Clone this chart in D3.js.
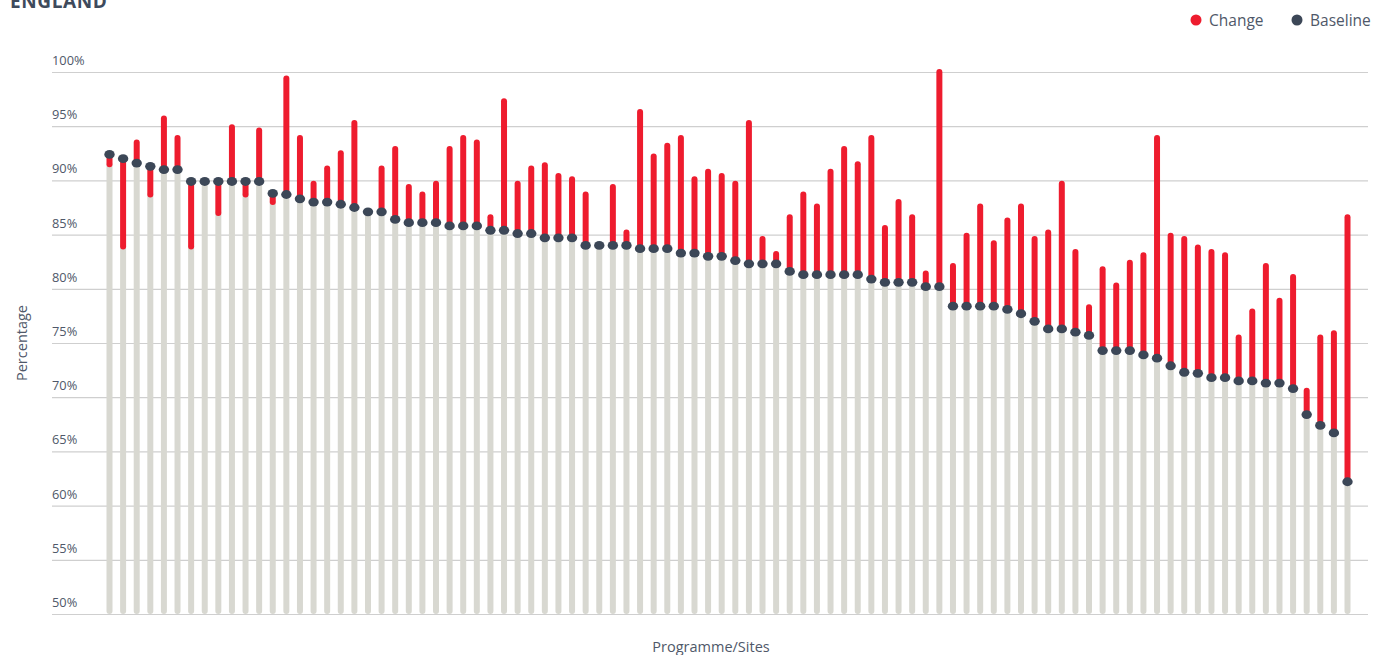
<!DOCTYPE html>
<html><head><meta charset="utf-8">
<script src="https://cdn.jsdelivr.net/npm/d3@7/dist/d3.min.js"></script>
<style>
html,body{margin:0;padding:0;background:#fff;overflow:hidden}
text{font-family:"Open Sans","Noto Sans",sans-serif}
</style></head>
<body><svg id="c" width="1373" height="655"></svg>
<script>
const baseline = [92.4,92.0,91.6,91.3,91.0,91.0,89.9,89.9,89.9,89.9,89.9,89.9,88.8,88.7,88.3,88.0,88.0,87.8,87.5,87.1,
87.1,86.4,86.1,86.1,86.1,85.8,85.8,85.8,85.4,85.4,85.1,85.1,84.7,84.7,84.7,84.0,84.0,84.0,84.0,83.7,
83.7,83.7,83.3,83.3,83.0,83.0,82.6,82.3,82.3,82.3,81.6,81.3,81.3,81.3,81.3,81.3,80.9,80.6,80.6,80.6,
80.2,80.2,78.4,78.4,78.4,78.4,78.1,77.7,77.0,76.3,76.3,76.0,75.7,74.3,74.3,74.3,73.9,73.6,72.9,72.3,
72.2,71.8,71.8,71.5,71.5,71.3,71.3,70.8,68.4,67.4,66.7,62.2];
const change = [91.5,83.9,93.5,88.7,95.7,93.9,83.9,89.9,87.0,94.9,88.7,94.6,88.0,99.4,93.9,89.7,91.1,92.5,95.3,87.1,
91.1,92.9,89.4,88.7,89.7,92.9,93.9,93.5,86.6,97.3,89.7,91.1,91.4,90.4,90.1,88.7,84.0,89.4,85.2,96.3,
92.2,93.2,93.9,90.1,90.8,90.4,89.7,95.3,84.6,83.2,86.6,88.7,87.6,90.8,92.9,91.5,93.9,85.6,88.0,86.6,
81.4,100.0,82.1,84.9,87.6,84.2,86.3,87.6,84.6,85.2,89.7,83.4,78.3,81.8,80.3,82.4,83.1,93.9,84.9,84.6,
83.8,83.4,83.1,75.5,77.9,82.1,78.9,81.1,70.6,75.5,75.9,86.6];
const yTicks = [50,55,60,65,70,75,80,85,90,95,100];
const legendItems = [{label:"Change",color:"#ee1c2e"},{label:"Baseline",color:"#3c4757"}];
const title = "ENGLAND";
const xTitle = "Programme/Sites";
const yTitle = "Percentage";

const RED="#ee1c2e", DARK="#3c4757", GREY="#d8d8d1", TXT="#4f5869";
const svg = d3.select("#c");
const idx = d3.range(baseline.length);
const x = d3.scalePoint().domain(idx).range([109.5,1347.5]);
const y = d3.scaleLinear().domain([50,100]).range([614,72]);

// title (top cut off, as in the reference)
svg.append("text").attr("x",10).attr("y",8).text(title)
  .attr("font-family","'Liberation Sans Narrow','DejaVu Sans Condensed',sans-serif")
  .attr("font-weight","bold").attr("font-size",19).attr("fill","#3e4a5c").attr("letter-spacing",0.6);

// grid
const yAxis = d3.axisLeft(y).tickValues(yTicks).tickSize(-(1368-52)).tickFormat(d=>d+"%");
const ga = svg.append("g").attr("transform","translate(52,0)").call(yAxis);
ga.select(".domain").remove();
ga.selectAll(".tick line").attr("stroke","#cfcfcf").attr("stroke-width",1.2);
ga.selectAll(".tick text").attr("x",0).attr("dy",-7.5).attr("text-anchor","start")
  .attr("font-size",12.8).attr("fill",TXT).attr("font-family","'Open Sans',sans-serif");

// grey bars
svg.append("g").selectAll("line").data(idx).join("line")
  .attr("x1",i=>x(i)).attr("x2",i=>x(i))
  .attr("y1",y(50)-3).attr("y2",i=>y(Math.min(baseline[i],change[i])))
  .attr("stroke",GREY).attr("stroke-width",6).attr("stroke-linecap","round");
// change segments
svg.append("g").selectAll("line").data(idx.filter(i=>Math.abs(change[i]-baseline[i])>0.05)).join("line")
  .attr("x1",i=>x(i)).attr("x2",i=>x(i))
  .attr("y1",i=>y(baseline[i])).attr("y2",i=>y(change[i]))
  .attr("stroke",RED).attr("stroke-width",6).attr("stroke-linecap","round");
// baseline dots
svg.append("g").selectAll("ellipse").data(idx).join("ellipse")
  .attr("cx",i=>x(i)).attr("cy",i=>y(baseline[i])).attr("rx",5.2).attr("ry",4.4)
  .attr("fill",DARK);

// legend
const lg = svg.append("g");
const lpos = [1196,1297];
legendItems.forEach((d,k)=>{
  lg.append("circle").attr("cx",lpos[k]).attr("cy",20).attr("r",5.5).attr("fill",d.color);
  lg.append("text").attr("x",lpos[k]+13).attr("y",25.5).text(d.label)
    .attr("font-size",15.5).attr("fill",TXT);
});

// axis titles
svg.append("text").attr("x",711).attr("y",652).attr("text-anchor","middle").text(xTitle)
  .attr("font-size",14.5).attr("fill",TXT);
svg.append("text").attr("transform","translate(27,343) rotate(-90)").attr("text-anchor","middle").text(yTitle)
  .attr("font-size",14.5).attr("fill",TXT);
</script></body></html>
